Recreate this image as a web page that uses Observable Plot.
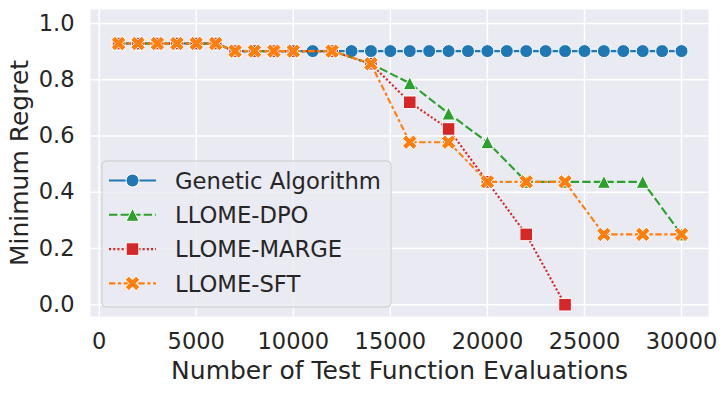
<!DOCTYPE html>
<html>
<head>
<meta charset="utf-8">
<script src="https://cdn.jsdelivr.net/npm/d3@7"></script>
<script src="https://cdn.jsdelivr.net/npm/@observablehq/plot@0.6"></script>
<style>
  html, body { margin: 0; padding: 0; background: white; }
  #chart { width: 727px; height: 393px; }
</style>
</head>
<body>
<div id="chart"></div>
<script>
// ---- data ----
const seriesNames = ["Genetic Algorithm", "LLOME-DPO", "LLOME-MARGE", "LLOME-SFT"];
const xGA = [1000, 2000, 3000, 4000, 5000, 6000, 7000, 8000, 9000, 10000,
             11000, 12000, 13000, 14000, 15000, 16000, 17000, 18000, 19000, 20000,
             21000, 22000, 23000, 24000, 25000, 26000, 27000, 28000, 29000, 30000];
const yGA = [0.929, 0.929, 0.929, 0.929, 0.929, 0.929, 0.902, 0.902, 0.902, 0.902,
             0.902, 0.902, 0.902, 0.902, 0.902, 0.902, 0.902, 0.902, 0.902, 0.902,
             0.902, 0.902, 0.902, 0.902, 0.902, 0.902, 0.902, 0.902, 0.902, 0.902];
const xLLOME = [1000, 2000, 3000, 4000, 5000, 6000, 7000, 8000, 9000, 10000,
                12000, 14000, 16000, 18000, 20000, 22000, 24000, 26000, 28000, 30000];
const yDPO = [0.929, 0.929, 0.929, 0.929, 0.929, 0.929, 0.902, 0.902, 0.902, 0.902,
              0.902, 0.857, 0.788, 0.680, 0.578, 0.437, 0.437, 0.437, 0.437, 0.250];
const yMARGE = [0.929, 0.929, 0.929, 0.929, 0.929, 0.929, 0.902, 0.902, 0.902, 0.902,
                0.902, 0.857, 0.720, 0.625, 0.437, 0.250, 0.000];
const ySFT = [0.929, 0.929, 0.929, 0.929, 0.929, 0.929, 0.902, 0.902, 0.902, 0.902,
              0.902, 0.857, 0.578, 0.578, 0.437, 0.437, 0.437, 0.250, 0.250, 0.250];
const xTicks = [0, 5000, 10000, 15000, 20000, 25000, 30000];
const yTicks = [0.0, 0.2, 0.4, 0.6, 0.8, 1.0];
const xLabel = "Number of Test Function Evaluations";
const yLabel = "Minimum Regret";

// ---- styles ----
const colors = ["#1f77b4", "#2ca02c", "#d62728", "#ff7f0e"];
const LW = 2.1;
const dashes = [null, `${4*LW},${1.5*LW}`, `${1*LW},${1*LW}`, `${3*LW},${1.25*LW},${1.5*LW},${1.25*LW}`];

// matplotlib-like marker shapes (size -> half extent s)
const half = size => Math.sqrt(size / Math.PI);
const symCircle = { draw(ctx, size) { const s = half(size); ctx.moveTo(s, 0); ctx.arc(0, 0, s, 0, 2 * Math.PI); ctx.closePath(); } };
const symTriangle = { draw(ctx, size) { const s = half(size); ctx.moveTo(0, -s); ctx.lineTo(-s, s); ctx.lineTo(s, s); ctx.closePath(); } };
const symSquare = { draw(ctx, size) { const s = half(size) * 0.97; ctx.moveTo(-s, -s); ctx.lineTo(s, -s); ctx.lineTo(s, s); ctx.lineTo(-s, s); ctx.closePath(); } };
const plusVerts = [[-1,-3],[1,-3],[1,-1],[3,-1],[3,1],[1,1],[1,3],[-1,3],[-1,1],[-3,1],[-3,-1],[-1,-1]];
const symX = { draw(ctx, size) {
  const m = 2 * half(size) * 1.18, c = Math.SQRT1_2;
  plusVerts.forEach(([a, b], i) => {
    const px = (a / 6) * m, py = (b / 6) * m;
    const rx = px * c - py * c, ry = px * c + py * c;
    if (i === 0) ctx.moveTo(rx, ry); else ctx.lineTo(rx, ry);
  });
  ctx.closePath();
} };
const symbols = [symCircle, symTriangle, symSquare, symX];

const ySeries = [yGA, yDPO, yMARGE, ySFT];
const xSeries = [xGA, xLLOME, xLLOME, xLLOME];
const table = [];
seriesNames.forEach((name, k) => {
  ySeries[k].forEach((v, i) => table.push({ series: name, k, x: xSeries[k][i], y: v }));
});

const marks = [
  Plot.frame({ fill: "#eaeaf2", stroke: null }),
  Plot.gridX(xTicks, { stroke: "white", strokeOpacity: 1, strokeWidth: 1.4 }),
  Plot.gridY(yTicks, { stroke: "white", strokeOpacity: 1, strokeWidth: 1.4 }),
  Plot.axisX(xTicks, { tickSize: 0, tickPadding: 17, fontSize: 22.5, tickFormat: d3.format("d"), label: null }),
  Plot.axisY(yTicks, { tickSize: 0, tickPadding: 16, fontSize: 22.5, tickFormat: d3.format(".1f"), label: null }),
  Plot.text([xLabel], { frameAnchor: "bottom", textAnchor: "middle", lineAnchor: "middle", dy: 54, fontSize: 25, fill: "#262626" }),
  Plot.text([yLabel], { frameAnchor: "left", textAnchor: "middle", lineAnchor: "middle", dx: -71, rotate: -90, fontSize: 25, fill: "#262626" })
];
seriesNames.forEach((name, k) => {
  const rows = table.filter(d => d.k === k);
  marks.push(Plot.line(rows, { x: "x", y: "y", stroke: colors[k], strokeWidth: LW, strokeDasharray: dashes[k] || undefined, strokeLinecap: "butt", strokeLinejoin: "round" }));
  marks.push(Plot.dot(rows, { x: "x", y: "y", symbol: symbols[k], r: 6.5, fill: colors[k], stroke: "white", strokeWidth: 1 }));
});

const chart = Plot.plot({
  width: 727,
  height: 393,
  marginLeft: 90,
  marginRight: 19,
  marginTop: 9,
  marginBottom: 77,
  style: { fontFamily: "DejaVu Sans", color: "#262626", background: "white", overflow: "visible" },
  x: { domain: [-448, 31390] },
  y: { domain: [-0.042, 1.05] },
  marks
});
document.getElementById("chart").appendChild(chart);

// ---- legend (inside the axes, lower left) ----
const svg = d3.select(chart.tagName.toLowerCase() === "svg" ? chart : chart.querySelector("svg"));
const lg = svg.append("g").attr("font-family", "DejaVu Sans").attr("text-anchor", "start");
lg.append("rect").attr("x", 102).attr("y", 161).attr("width", 289).attr("height", 146)
  .attr("rx", 4).attr("fill", "rgba(234,234,242,0.8)").attr("stroke", "#cccccc").attr("stroke-width", 1);
seriesNames.forEach((name, k) => {
  const cy = 180.5 + k * 34.3;
  lg.append("line").attr("x1", 109).attr("x2", 156).attr("y1", cy).attr("y2", cy)
    .attr("stroke", colors[k]).attr("stroke-width", LW).attr("stroke-dasharray", dashes[k]);
  lg.append("path").attr("transform", `translate(132.5,${cy})`)
    .attr("d", d3.symbol(symbols[k], Math.PI * 6.5 * 6.5)())
    .attr("fill", colors[k]).attr("stroke", "white").attr("stroke-width", 1);
  lg.append("text").attr("x", 175).attr("y", cy).attr("dy", "0.36em")
    .attr("text-anchor", "start")
    .attr("font-size", 22.7).attr("fill", "#262626").text(name);
});
</script>
</body>
</html>
